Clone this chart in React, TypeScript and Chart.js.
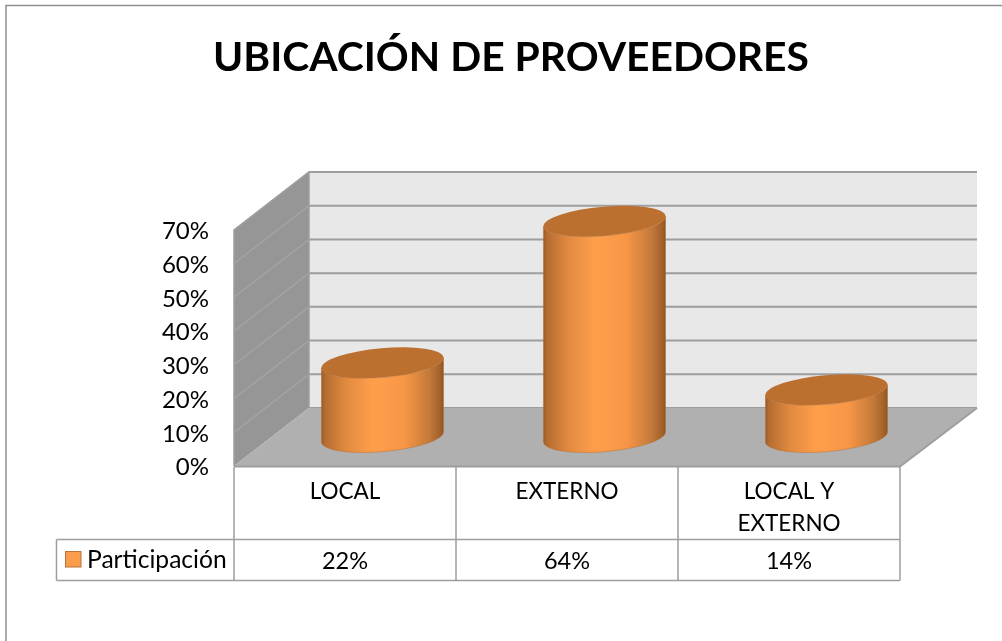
import React, { useEffect, useRef } from "react";
import { Chart, registerables } from "chart.js";

Chart.register(...registerables);

const titleText = "UBICACIÓN DE PROVEEDORES";
const seriesName = "Participación";
const categories: (string | string[])[] = ["LOCAL", "EXTERNO", ["LOCAL Y", "EXTERNO"]];
const values = [0.22, 0.64, 0.14];
const tableLabels = ["22%", "64%", "14%"];
const yTicks = [0, 0.1, 0.2, 0.3, 0.4, 0.5, 0.6, 0.7];

const FONT = "Lato, Carlito, 'Open Sans', sans-serif";
const DEPTH_X = 75;
const DEPTH_Y = -58;
const LINE = "#9e9e9e";

const cylinder3d = {
  id: "cylinder3d",
  beforeDatasetsDraw(chart: any) {
    const { ctx, chartArea: a, scales } = chart;
    const y = scales.y;
    const L = a.left, R = a.right, T = a.top, B = a.bottom;

    ctx.save();
    // page frame
    ctx.strokeStyle = "#8f8f8f";
    ctx.lineWidth = 1.5;
    ctx.beginPath();
    ctx.moveTo(6, 660);
    ctx.lineTo(6, 5.5);
    ctx.lineTo(1010, 5.5);
    ctx.stroke();

    // back wall
    ctx.fillStyle = "#e8e8e8";
    ctx.fillRect(L + DEPTH_X, T + DEPTH_Y, R - L + 2, B - T);
    // side wall
    ctx.fillStyle = "#969696";
    ctx.beginPath();
    ctx.moveTo(L, T);
    ctx.lineTo(L + DEPTH_X, T + DEPTH_Y);
    ctx.lineTo(L + DEPTH_X, B + DEPTH_Y);
    ctx.lineTo(L, B);
    ctx.closePath();
    ctx.fill();

    // grid lines
    yTicks.forEach((v) => {
      const py = y.getPixelForValue(v);
      if (v > 0) {
        ctx.strokeStyle = "#a3a3a3";
        ctx.lineWidth = 1.5;
        ctx.beginPath();
        ctx.moveTo(L, py);
        ctx.lineTo(L + DEPTH_X, py + DEPTH_Y);
        ctx.stroke();
      }
      ctx.strokeStyle = LINE;
      ctx.lineWidth = 2;
      ctx.beginPath();
      ctx.moveTo(L + DEPTH_X, py + DEPTH_Y);
      ctx.lineTo(R + DEPTH_X + 2, py + DEPTH_Y);
      ctx.stroke();
    });

    // floor
    ctx.fillStyle = "#b0b0b0";
    ctx.beginPath();
    ctx.moveTo(L, B);
    ctx.lineTo(L + DEPTH_X, B + DEPTH_Y);
    ctx.lineTo(R + DEPTH_X + 2, B + DEPTH_Y);
    ctx.lineTo(R, B);
    ctx.closePath();
    ctx.fill();

    // wall outline
    ctx.strokeStyle = LINE;
    ctx.lineWidth = 1.5;
    ctx.beginPath();
    ctx.moveTo(L, B);
    ctx.lineTo(L, T);
    ctx.lineTo(L + DEPTH_X, T + DEPTH_Y);
    ctx.lineTo(L + DEPTH_X, B + DEPTH_Y);
    ctx.stroke();
    ctx.lineWidth = 2;
    ctx.beginPath();
    ctx.moveTo(L, B + 0.5);
    ctx.lineTo(R, B + 0.5);
    ctx.lineTo(R + DEPTH_X + 2, B + DEPTH_Y);
    ctx.stroke();

    // data table
    const meta = chart.getDatasetMeta(0);
    const step = (R - L) / categories.length;
    const row1 = 539.5, row2 = 580.5, tableLeft = 56.5;
    ctx.strokeStyle = LINE;
    ctx.lineWidth = 1.5;
    ctx.beginPath();
    for (let i = 0; i <= categories.length; i++) {
      ctx.moveTo(L + step * i, B + 1);
      ctx.lineTo(L + step * i, row2);
    }
    ctx.moveTo(tableLeft, row1);
    ctx.lineTo(R, row1);
    ctx.moveTo(tableLeft, row2);
    ctx.lineTo(R, row2);
    ctx.moveTo(tableLeft, row1);
    ctx.lineTo(tableLeft, row2);
    ctx.stroke();

    ctx.fillStyle = "#000";
    ctx.textBaseline = "middle";
    ctx.textAlign = "left";
    ctx.font = `24.6px ${FONT}`;
    ctx.fillText(seriesName, 87, 560);
    ctx.textAlign = "center";
    ctx.font = `23.5px ${FONT}`;
    tableLabels.forEach((t, i) => ctx.fillText(t, meta.data[i].x, 561));
    ctx.fillStyle = "#f99c4c";
    ctx.strokeStyle = "#b9733a";
    ctx.lineWidth = 1;
    ctx.fillRect(65.5, 551.5, 15.5, 15.5);
    ctx.strokeRect(65.5, 551.5, 15.5, 15.5);

    // cylinders
    const rot = (-5 * Math.PI) / 180;
    const ry = 14.6;
    meta.data.forEach((bar: any) => {
      const cx = bar.x + DEPTH_X / 2;
      const rx = bar.width / 2 + 0.2;
      const topY = bar.y + DEPTH_Y / 2;
      const baseY = bar.base + DEPTH_Y / 2;
      const t0 = Math.atan2(-ry * Math.sin(rot), rx * Math.cos(rot));
      const g = ctx.createLinearGradient(cx - rx, 0, cx + rx, 0);
      g.addColorStop(0, "#95592a");
      g.addColorStop(0.03, "#b56c30");
      g.addColorStop(0.2, "#e08a40");
      g.addColorStop(0.42, "#ff9e4a");
      g.addColorStop(0.68, "#f79646");
      g.addColorStop(0.88, "#c47a3a");
      g.addColorStop(0.975, "#a0602a");
      g.addColorStop(1, "#8a5222");

      ctx.beginPath();
      ctx.ellipse(cx, baseY, rx, ry, rot, t0, t0 + Math.PI, false);
      ctx.ellipse(cx, topY, rx, ry, rot, t0 + Math.PI, t0, true);
      ctx.closePath();
      ctx.fillStyle = g;
      ctx.fill();
      ctx.strokeStyle = "rgba(190,110,50,0.5)";
      ctx.lineWidth = 1;
      ctx.stroke();

      ctx.beginPath();
      ctx.ellipse(cx, topY, rx, ry, rot, 0, Math.PI * 2);
      ctx.fillStyle = "#bb7030";
      ctx.fill();
    });
    ctx.restore();
  },
};

export default function App() {
  const ref = useRef<HTMLCanvasElement>(null);
  useEffect(() => {
    document.body.style.margin = "0";
    document.body.style.background = "#fff";
    const chart = new Chart(ref.current!, {
      type: "bar",
      data: {
        labels: categories as any,
        datasets: [
          {
            label: seriesName,
            data: values,
            backgroundColor: "rgba(0,0,0,0)",
            borderWidth: 0,
            barPercentage: 0.55,
            categoryPercentage: 1,
          },
        ],
      },
      options: {
        responsive: false,
        animation: false,
        layout: { padding: { left: 122, right: 102, top: 0, bottom: 0 } },
        plugins: {
          legend: { display: false },
          tooltip: { enabled: false },
          title: {
            display: true,
            text: titleText,
            color: "#000",
            font: { family: FONT, size: 40.8, weight: "bold", lineHeight: 1.2 },
            padding: { top: 33, bottom: 230 - 33 - 48.96 },
          },
        },
        scales: {
          x: {
            grid: { display: false, drawTicks: false },
            border: { display: false },
            afterFit: (s: any) => { s.height = 175; },
            ticks: {
              color: "#000",
              font: { family: FONT, size: 22.5, lineHeight: 1.42 },
              padding: 10,
              maxRotation: 0,
              autoSkip: false,
            },
          },
          y: {
            min: 0,
            max: 0.7,
            grid: { display: false, drawTicks: false },
            border: { display: false },
            afterFit: (s: any) => { s.width = 112; },
            ticks: {
              stepSize: 0.1,
              color: "#000",
              font: { family: FONT, size: 24 },
              padding: 25,
              labelOffset: 1.5,
              callback: (v: any) => `${Math.round(Number(v) * 100)}%`,
            },
          },
        },
      },
      plugins: [cylinder3d],
    } as any);
    return () => chart.destroy();
  }, []);
  return <canvas ref={ref} width={1002} height={641} style={{ display: "block", width: 1002, height: 641 }} />;
}
